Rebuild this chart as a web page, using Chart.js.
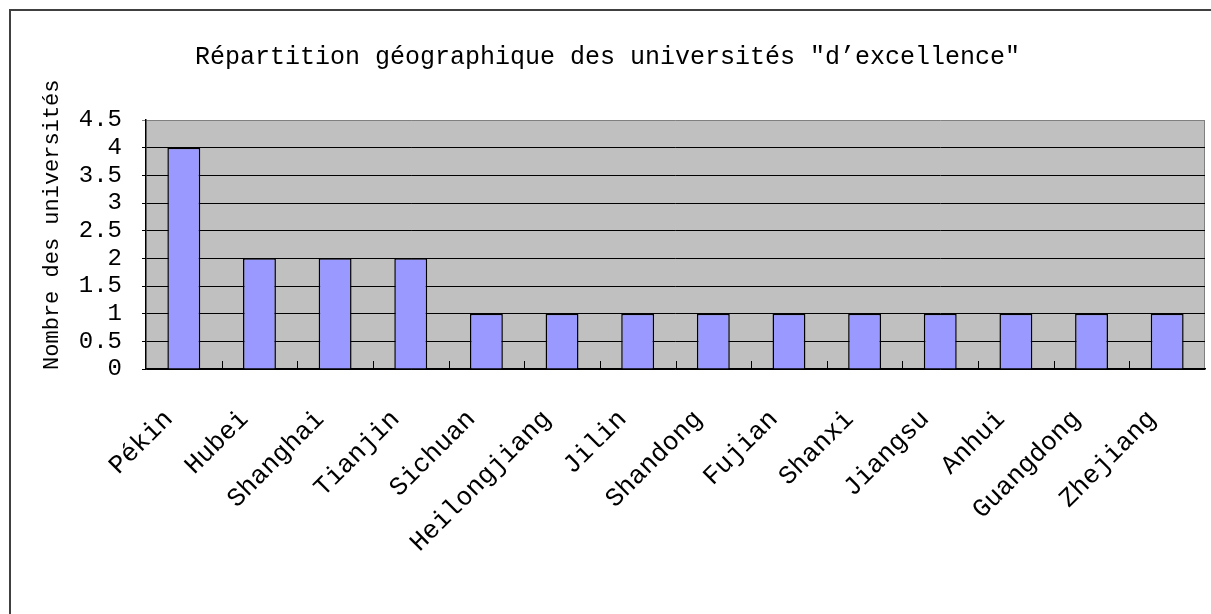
<!DOCTYPE html>
<html lang="fr">
<head>
    <meta charset="UTF-8">
    <title>Répartition géographique des universités</title>
    <script src="https://cdn.jsdelivr.net/npm/chart.js"></script>
    <style>
        html, body { margin: 0; padding: 0; background: #fff; overflow: hidden; }
        #frame {
            position: absolute;
            left: 9px;
            top: 9px;
            width: 1300px;
            height: 700px;
            border-left: 2px solid #404040;
            border-top: 2px solid #404040;
        }
        #myChart { position: absolute; left: 0; top: 0; }
    </style>
</head>
<body>
    <div id="frame"></div>
    <canvas id="myChart" width="1211" height="614"></canvas>

    <script>
        // provinces and number of "excellence" universities
        const provinces = ['Pékin', 'Hubei', 'Shanghai', 'Tianjin', 'Sichuan', 'Heilongjiang', 'Jilin',
            'Shandong', 'Fujian', 'Shanxi', 'Jiangsu', 'Anhui', 'Guangdong', 'Zhejiang'];
        const universities = [4, 2, 2, 2, 1, 1, 1, 1, 1, 1, 1, 1, 1, 1];

        const fontFamily = '"Liberation Mono", "Noto Sans CJK SC", monospace';

        // gray plot area + small inside ticks between categories
        const plotArea = {
            id: 'plotArea',
            beforeDraw(chart) {
                const { ctx, chartArea } = chart;
                ctx.save();
                ctx.fillStyle = '#c0c0c0';
                ctx.fillRect(chartArea.left, chartArea.top, chartArea.right - chartArea.left, chartArea.bottom - chartArea.top);
                ctx.strokeStyle = '#808080';
                ctx.lineWidth = 1;
                ctx.beginPath();
                ctx.moveTo(chartArea.right - 0.5, chartArea.top);
                ctx.lineTo(chartArea.right - 0.5, chartArea.bottom);
                ctx.stroke();
                ctx.restore();
            },
            afterDatasetsDraw(chart) {
                const { ctx, chartArea } = chart;
                const x = chart.scales.x;
                ctx.save();
                ctx.strokeStyle = '#000';
                ctx.lineWidth = 1;
                ctx.beginPath();
                for (let i = 1; i < provinces.length; i++) {
                    const px = Math.round((x.getPixelForTick(i - 1) + x.getPixelForTick(i)) / 2) + 0.5;
                    ctx.moveTo(px, chartArea.bottom);
                    ctx.lineTo(px, chartArea.bottom - 8);
                }
                ctx.stroke();
                ctx.restore();
            }
        };

        const ctx = document.getElementById('myChart').getContext('2d');

        const myChart = new Chart(ctx, {
            type: 'bar',
            data: {
                labels: provinces,
                datasets: [{
                    label: 'Universités',
                    data: universities,
                    backgroundColor: '#9999ff',
                    borderColor: '#000000',
                    borderWidth: 1.5,
                    categoryPercentage: 1,
                    barPercentage: 0.435
                }]
            },
            options: {
                responsive: false,
                animation: false,
                layout: { padding: { left: 10, right: 6, top: 0, bottom: 0 } },
                plugins: {
                    legend: { display: false },
                    tooltip: { enabled: false },
                    title: {
                        display: true,
                        text: 'Répartition géographique des universités ″d’excellence″',
                        color: '#000',
                        font: { family: fontFamily, size: 25, weight: 'normal' },
                        padding: { top: 42, bottom: 48 }
                    }
                },
                scales: {
                    x: {
                        afterFit(scale) {
                            scale.height = 245;
                            scale.paddingLeft = 0;
                            scale.paddingRight = 0;
                        },
                        grid: { display: false },
                        border: { color: '#000', width: 1.5 },
                        ticks: {
                            color: '#000',
                            autoSkip: false,
                            maxRotation: 45,
                            minRotation: 45,
                            padding: 27,
                            labelOffset: -15,
                            font: { family: fontFamily, size: 26 }
                        }
                    },
                    y: {
                        min: 0,
                        max: 4.5,
                        afterFit(scale) { scale.width = 136; },
                        border: { color: '#000', width: 1.5 },
                        grid: {
                            color: (c) => c.tick && c.tick.value === 4.5 ? '#808080' : '#000',
                            lineWidth: 1,
                            drawTicks: true,
                            tickLength: 4
                        },
                        ticks: {
                            stepSize: 0.5,
                            autoSkip: false,
                            color: '#000',
                            padding: 20,
                            font: { family: fontFamily, size: 24 },
                            callback: (v) => String(v)
                        },
                        title: {
                            display: true,
                            text: '   Nombre des universités',
                            color: '#000',
                            font: { family: fontFamily, size: 22 },
                            padding: { top: 29, bottom: 0 }
                        }
                    }
                }
            },
            plugins: [plotArea]
        });
    </script>
</body>
</html>
